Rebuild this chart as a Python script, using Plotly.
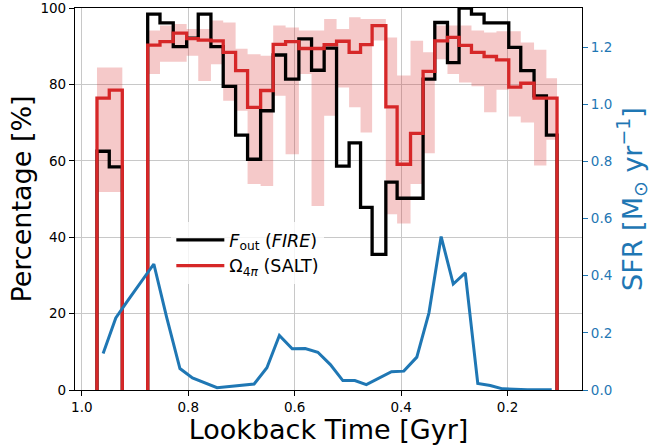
import math
import plotly.graph_objects as go

# Bin edges of lookback time [Gyr]
BIN_EDGES = [0.9715, 0.9484, 0.9239, 0.9001, 0.8762, 0.8531, 0.8282, 0.8030, 0.7812,
             0.7574, 0.7343, 0.7110, 0.6885, 0.6640, 0.6404, 0.6171, 0.5921, 0.5683,
             0.5446, 0.5213, 0.4977, 0.4762, 0.4545, 0.4287, 0.4075, 0.3823, 0.3587,
             0.3367, 0.3129, 0.2911, 0.2678, 0.2441, 0.2208, 0.1977, 0.1752, 0.1502,
             0.1270, 0.1070]

NAN = float("nan")

# F_out (FIRE) [%]  (no data in two bins)
F_OUT = [62.5, 58.4, NAN, NAN, 98.4, 96.1, 89.9, 92.1, 98.4, 89.9, 79.5, 66.7, 60.4, 73.1,
         87.7, 81.4, 91.9, 83.7, 89.5, 58.6, 64.7, 47.8, 35.5, 54.4, 50.2, 50.2, 81.4,
         96.2, 85.7, 100.0, 98.4, 96.1, 96.1, 89.7, 83.6, 77.0, 66.7]

# Omega_4pi (SALT) [%]
OMEGA = [76.4, 78.5, NAN, NAN, 90.3, 91.2, 93.4, 92.0, 91.6, 91.4, 88.4, 83.6, 74.0, 78.4,
         90.5, 91.2, 89.4, 89.4, 90.4, 91.3, 88.4, 90.4, 95.4, 74.1, 59.1, 67.2, 83.4,
         91.4, 92.3, 90.2, 88.4, 87.3, 86.4, 79.3, 80.3, 76.4, 76.4]

# Omega_4pi uncertainty band
BAND_HI = [84.4, 84.4, NAN, NAN, 94.1, 95.4, 95.8, 94.5, 94.5, 96.7, 96.2, 89.3, 87.9, 87.5,
           95.4, 94.9, 94.1, 94.1, 97.1, 94.5, 97.6, 97.1, 97.1, 92.3, 82.3, 91.4, 88.4,
           95.4, 95.4, 95.4, 94.1, 93.6, 93.9, 93.9, 91.0, 89.1, 81.6]
BAND_LO = [51.8, 51.8, NAN, NAN, 82.7, 85.9, 85.9, 87.5, 80.9, 85.3, 75.7, 73.1, 53.9, 53.4,
           77.0, 61.7, 82.7, 48.2, 71.8, 79.2, 74.0, 67.4, 91.5, 46.0, 43.6, 53.9, 62.0,
           86.6, 82.7, 80.5, 79.5, 72.7, 78.6, 71.6, 70.0, 58.8, 65.5]

# SFR [Msun/yr] at bin centres
SFR = [0.128, 0.252, 0.317, 0.381, 0.441, 0.255, 0.075, 0.042, 0.025, 0.008, 0.012, 0.017,
       0.021, 0.078, 0.191, 0.144, 0.145, 0.132, 0.089, 0.033, 0.033, 0.019, 0.043, 0.064,
       0.066, 0.115, 0.270, 0.537, 0.371, 0.410, 0.023, 0.016, 0.004, 0.002, 0.001, 0.001,
       0.001]

X_TICKS = [1.0, 0.8, 0.6, 0.4, 0.2]
Y_TICKS = [0, 20, 40, 60, 80, 100]
Y2_TICKS = [0.0, 0.2, 0.4, 0.6, 0.8, 1.0, 1.2]

RED = "#d62728"
BLUE = "#1f77b4"
FONT = "DejaVu Sans"

centers = [(BIN_EDGES[i] + BIN_EDGES[i + 1]) / 2 for i in range(len(SFR))]


def runs(vals):
    out, cur = [], []
    for i, v in enumerate(vals):
        if v is None or math.isnan(v):
            if cur:
                out.append(cur)
                cur = []
        else:
            cur.append(i)
    if cur:
        out.append(cur)
    return out


def step_xy(vals):
    """Step outline per run of data, dropping to 0 at both ends of each run."""
    xs, ys = [], []
    for seg in runs(vals):
        i0, i1 = seg[0], seg[-1]
        xs += [BIN_EDGES[i0]] + BIN_EDGES[i0:i1 + 2] + [None]
        ys += [0] + [vals[i] for i in seg] + [0] + [None]
    return xs, ys


fig = go.Figure()

for seg in runs(BAND_HI):
    i0, i1 = seg[0], seg[-1]
    xs = BIN_EDGES[i0:i1 + 2]
    lo = BAND_LO[i0:i1 + 1] + [BAND_LO[i1]]
    hi = BAND_HI[i0:i1 + 1] + [BAND_HI[i1]]
    fig.add_trace(go.Scatter(x=xs, y=lo, mode="lines", line=dict(width=0, shape="hv"),
                             showlegend=False, hoverinfo="skip"))
    fig.add_trace(go.Scatter(x=xs, y=hi, mode="lines", line=dict(width=0, shape="hv"),
                             fill="tonexty", fillcolor="rgba(214,39,40,0.25)",
                             showlegend=False, hoverinfo="skip"))

xs, ys = step_xy(F_OUT)
fig.add_trace(go.Scatter(x=xs, y=ys, mode="lines", connectgaps=False,
                         line=dict(color="black", width=3.3, shape="hv"),
                         name="<i>F</i><sub>out</sub> (<i>FIRE</i>)", legendgroup="a"))
xs, ys = step_xy(OMEGA)
fig.add_trace(go.Scatter(x=xs, y=ys, mode="lines", connectgaps=False,
                         line=dict(color=RED, width=3.3, shape="hv"),
                         name="Ω<sub>4<i>π</i></sub> (SALT)", legendgroup="b"))

fig.add_trace(go.Scatter(x=centers, y=SFR, mode="lines", line=dict(color=BLUE, width=3),
                         yaxis="y2", showlegend=False))

fig.update_layout(
    width=665, height=445,
    margin=dict(l=75, r=83, t=8, b=55),
    plot_bgcolor="white", paper_bgcolor="white",
    font=dict(family=FONT, color="black", size=13.5),
    xaxis=dict(range=[1.0128, 0.0601], tickvals=X_TICKS, ticktext=[f"{v:.1f}" for v in X_TICKS],
               showgrid=True, gridcolor="#c8c8c8", gridwidth=1, zeroline=False, automargin=False,
               ticks="outside", ticklen=5, tickcolor="black", showline=True, linecolor="black",
               linewidth=1.2, mirror=True, ticklabeloverflow="allow",
               title=dict(text="Lookback Time [Gyr]", font=dict(size=27), standoff=0)),
    yaxis=dict(range=[0, 100], tickvals=Y_TICKS, showgrid=True, gridcolor="#c8c8c8", gridwidth=1,
               zeroline=False, ticks="outside", ticklen=5, tickcolor="black", showline=True,
               linecolor="black", linewidth=1.2, automargin=False, ticklabeloverflow="allow",
               title=dict(text="Percentage [%]", font=dict(size=27), standoff=0)),
    yaxis2=dict(range=[0, 1.337], tickvals=Y2_TICKS, ticktext=[f"{v:.1f}" for v in Y2_TICKS],
                overlaying="y", side="right", showgrid=False, zeroline=False, automargin=False,
                ticks="outside", ticklen=5, tickcolor=BLUE, tickfont=dict(color=BLUE),
                showline=True, linecolor="black", linewidth=1.2, ticklabeloverflow="allow",
                title=dict(text="SFR [M<sub>⊙</sub> yr<sup>−1</sup>]", font=dict(size=27, color=BLUE),
                           standoff=1)),
    legend=dict(x=0.19, y=0.440, xanchor="left", yanchor="top", bgcolor="rgba(255,255,255,0.8)",
                borderwidth=0, font=dict(size=17.5), tracegroupgap=0, traceorder="grouped",
                itemwidth=48),
)

fig.write_html("out.html", config={"displayModeBar": False},
               post_script="document.body.style.margin='0px';")
